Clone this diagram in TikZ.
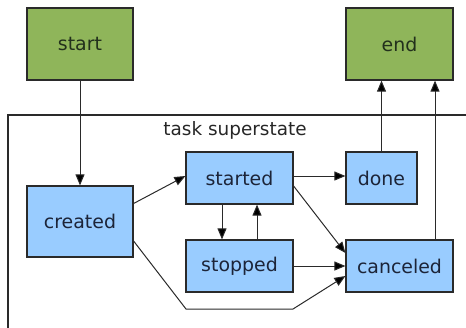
\documentclass[tikz,border=0pt]{standalone}
\usepackage{fontspec}
\setmainfont{DejaVu Sans}
\usetikzlibrary{arrows.meta,calc}
\definecolor{stategreen}{HTML}{8FB55A}
\definecolor{stateblue}{HTML}{99CCFF}
\definecolor{linegray}{HTML}{2A2A2A}
\definecolor{greentext}{HTML}{22301C}
\definecolor{bluetext}{HTML}{1C2438}
\tikzset{
  statebox/.style={draw=linegray, line width=1.2bp, inner sep=0pt,
    font=\fontsize{19}{22}\selectfont},
  outer/.style={statebox, fill=stategreen, text=greentext},
  inner/.style={statebox, fill=stateblue, text=bluetext},
  arr/.style={draw=linegray, line width=1bp,
    -{Triangle[length=11bp,width=9bp,fill=black]}},
  wire/.style={draw=linegray, line width=1bp}
}
\begin{document}
\begin{tikzpicture}[x=1bp,y=-1bp]
\useasboundingbox (0,0) rectangle (466,327);
\begin{scope}
\clip (0,0) rectangle (466,327);
% superstate frame, running past the right and bottom edges
\draw[wire, line width=1.2bp] (480,115) -- (8,115) -- (8,340);
\end{scope}
\node[font=\fontsize{18.5}{22}\selectfont, text=black!85] (title) at (235,130) {task superstate};

\node[outer, minimum width=106bp, minimum height=72bp] (start) at (80,44) {start};
\node[outer, minimum width=107bp, minimum height=72bp] (end) at (399.5,44) {end};

\node[inner, minimum width=106bp, minimum height=71bp] (created) at (80,221.5) {created};
\node[inner, minimum width=107bp, minimum height=52bp] (started) at (239.5,178) {started};
\node[inner, minimum width=107bp, minimum height=52bp] (stopped) at (239.5,266) {stopped};
\node[inner, minimum width=71bp, minimum height=52bp] (done) at (381.5,178) {done};
\node[inner, minimum width=107bp, minimum height=52bp] (canceled) at (399.5,266) {canceled};

\coordinate (bendA) at (186,309);
\coordinate (bendB) at (293,309);

\draw[arr] (start.south) -- (created.north);
\draw[arr] ([yshift=18bp]created.east) -- ([yshift=2bp]started.west);
\draw[arr] ([yshift=2bp]started.east) -- ([yshift=2bp]done.west);
\draw[arr] ([xshift=-17.5bp]started.south) -- ([xshift=-17.5bp]stopped.north);
\draw[arr] ([xshift=17.5bp]stopped.north) -- ([xshift=17.5bp]started.south);
\draw[arr] ([yshift=-8bp]started.east) -- ([yshift=13bp]canceled.west);
\draw[arr] (stopped.east) -- (canceled.west);
\draw[arr] ([yshift=-19.5bp]created.east) -- (bendA) -- (bendB) -- ([yshift=-10bp]canceled.west);
\draw[arr] (done.north) -- (done.north |- end.south);
\draw[arr] ([xshift=35.5bp]canceled.north) -- ([xshift=35.5bp]canceled.north |- end.south);
\end{tikzpicture}
\end{document}
